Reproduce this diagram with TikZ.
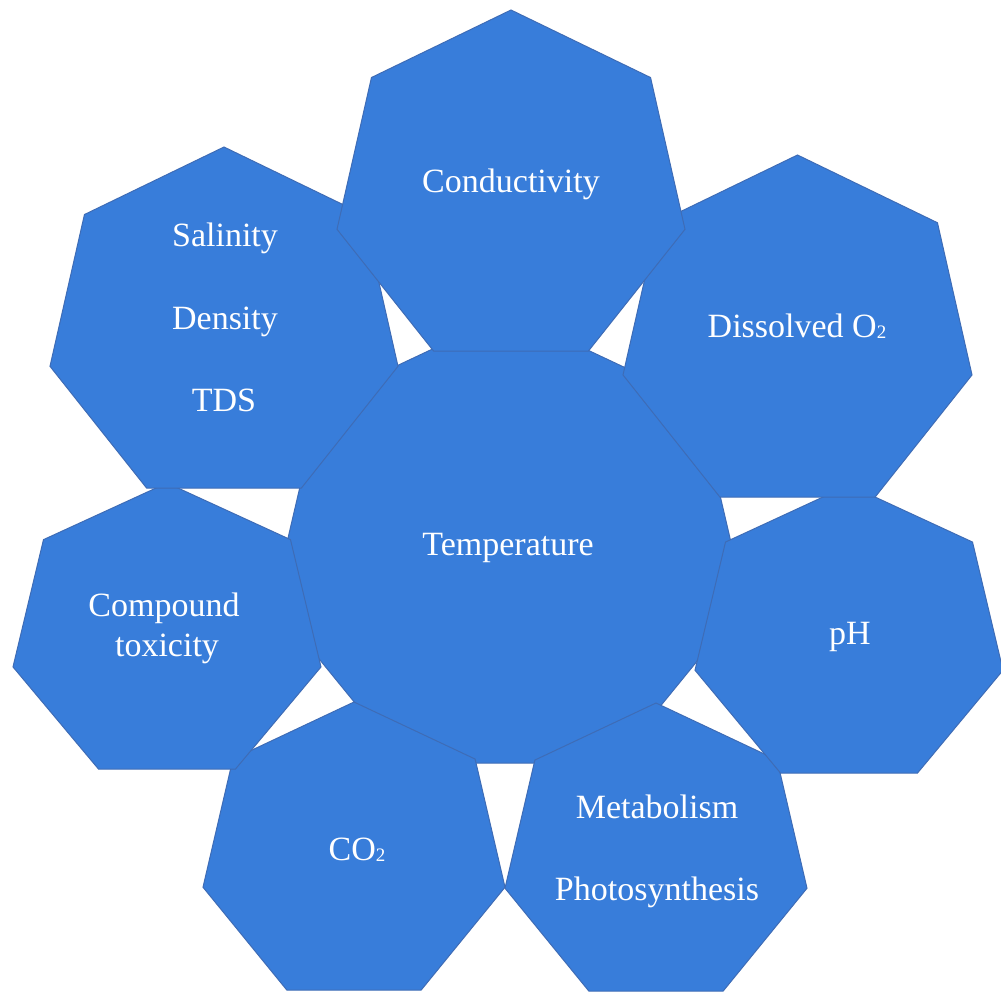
\documentclass[tikz,border=0pt]{standalone}
\usepackage{fontspec}
\setmainfont{Liberation Serif}
\definecolor{hepfill}{RGB}{56,125,218}
\definecolor{hepline}{RGB}{62,108,182}
\tikzset{
  hepshape/.style={fill=hepfill, draw=hepline, line width=1pt, line join=miter},
  lbl/.style={text=white, font=\fontsize{34}{40}\selectfont, inner sep=0pt, anchor=base}
}
\newcommand{\smalltwo}{\raisebox{-1.5pt}{\fontsize{19}{19}\selectfont 2}}
% Office-style heptagon in box: left x, top y, width, height
\newcommand{\myhept}[4]{%
  \path[hepshape] (#1,{#2+0.64311*#4}) -- ({#1+0.09903*#3},{#2+0.19806*#4})
    -- ({#1+0.5*#3},#2) -- ({#1+0.90097*#3},{#2+0.19806*#4})
    -- ({#1+#3},{#2+0.64311*#4}) -- ({#1+0.72252*#3},{#2+#4})
    -- ({#1+0.27748*#3},{#2+#4}) -- cycle;}
\begin{document}
\begin{tikzpicture}[x=1pt,y=-1pt]
\useasboundingbox (0,0) rectangle (1001,992);
\fill[white] (0,0) rectangle (1001,992);
\begin{scope}
\clip (0,0) rectangle (1001,992);
\myhept{273}{313}{472}{450}  % Temperature (centre)
\myhept{203}{702}{302}{288}  % CO2
\myhept{505}{703}{302}{288}  % Metabolism
\myhept{13}{483}{308}{286}   % Compound toxicity
\myhept{695}{485}{308}{288}  % pH
\myhept{50}{147}{348}{341}   % Salinity
\myhept{623}{155}{349}{342}  % Dissolved O2
\myhept{337}{10}{348}{341}   % Conductivity
\end{scope}
\node[lbl] (cond)  at (511,193)   {Conductivity};
\node[lbl] (sal)   at (225,246.7) {Salinity};
\node[lbl] (dens)  at (225,329.3) {Density};
\node[lbl] (tds)   at (224,411)   {TDS};
\node[lbl] (diss)  at (797,337)   {Dissolved O\smalltwo};
\node[lbl] (temp)  at (508,555)   {Temperature};
\node[lbl] (comp)  at (164,616.7) {Compound};
\node[lbl] (tox)   at (167,656)   {toxicity};
\node[lbl] (ph)    at (850,644)   {pH};
\node[lbl] (co2)   at (357,860)   {CO\smalltwo};
\node[lbl] (metab) at (657,818)   {Metabolism};
\node[lbl] (photo) at (657,900)   {Photosynthesis};
\end{tikzpicture}
\end{document}
